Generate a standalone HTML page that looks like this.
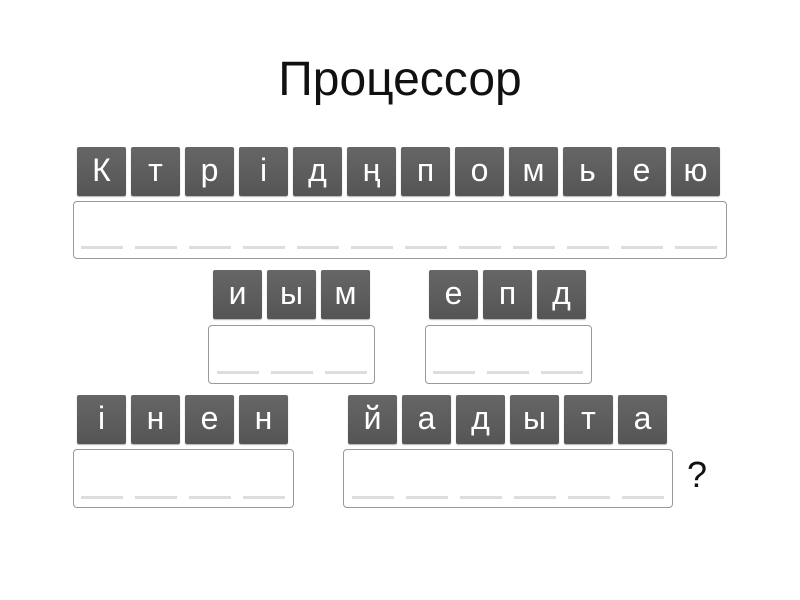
<!DOCTYPE html>
<html><head><meta charset="utf-8"><style>
body{margin:0;width:800px;height:600px;background:#fff;position:relative;overflow:hidden;font-family:"Liberation Sans",Arial,sans-serif}
.t{position:absolute;width:49px;height:49px;background:linear-gradient(#666,#555);border-radius:2px;color:#fff;font-size:32px;line-height:46px;text-align:center;box-shadow:0 1px 1px rgba(0,0,0,.3)}
.b{position:absolute;height:56px;border:1px solid #999;border-radius:4px;box-sizing:border-box;background:#fff}
.u{position:absolute;width:42px;height:3px;background:#ddd}
.title{position:absolute;left:0;width:800px;top:52px;text-align:center;font-size:48px;color:#111}
.q{position:absolute;left:687px;top:454px;font-size:36px;color:#111}
</style></head><body>
<div class="title">Процессор</div>

<div class="t" style="left:77px;top:147px">К</div>
<div class="t" style="left:131px;top:147px">т</div>
<div class="t" style="left:185px;top:147px">р</div>
<div class="t" style="left:239px;top:147px">і</div>
<div class="t" style="left:293px;top:147px">д</div>
<div class="t" style="left:347px;top:147px">ң</div>
<div class="t" style="left:401px;top:147px">п</div>
<div class="t" style="left:455px;top:147px">о</div>
<div class="t" style="left:509px;top:147px">м</div>
<div class="t" style="left:563px;top:147px">ь</div>
<div class="t" style="left:617px;top:147px">е</div>
<div class="t" style="left:671px;top:147px">ю</div>
<div class="b" style="left:73px;top:201px;width:654px;height:58px"></div>
<div class="u" style="left:81px;top:246px"></div><div class="u" style="left:135px;top:246px"></div><div class="u" style="left:189px;top:246px"></div><div class="u" style="left:243px;top:246px"></div><div class="u" style="left:297px;top:246px"></div><div class="u" style="left:351px;top:246px"></div><div class="u" style="left:405px;top:246px"></div><div class="u" style="left:459px;top:246px"></div><div class="u" style="left:513px;top:246px"></div><div class="u" style="left:567px;top:246px"></div><div class="u" style="left:621px;top:246px"></div><div class="u" style="left:675px;top:246px"></div>

<div class="t" style="left:213px;top:270px">и</div>
<div class="t" style="left:267px;top:270px">ы</div>
<div class="t" style="left:321px;top:270px">м</div>
<div class="b" style="left:208px;top:325px;width:167px;height:59px"></div>
<div class="u" style="left:217px;top:371px"></div><div class="u" style="left:271px;top:371px"></div><div class="u" style="left:325px;top:371px"></div>

<div class="t" style="left:429px;top:270px">е</div>
<div class="t" style="left:483px;top:270px">п</div>
<div class="t" style="left:537px;top:270px">д</div>
<div class="b" style="left:425px;top:325px;width:167px;height:59px"></div>
<div class="u" style="left:433px;top:371px"></div><div class="u" style="left:487px;top:371px"></div><div class="u" style="left:541px;top:371px"></div>

<div class="t" style="left:77px;top:395px">і</div>
<div class="t" style="left:131px;top:395px">н</div>
<div class="t" style="left:185px;top:395px">е</div>
<div class="t" style="left:239px;top:395px">н</div>
<div class="b" style="left:73px;top:449px;width:221px;height:59px"></div>
<div class="u" style="left:81px;top:496px"></div><div class="u" style="left:135px;top:496px"></div><div class="u" style="left:189px;top:496px"></div><div class="u" style="left:243px;top:496px"></div>

<div class="t" style="left:348px;top:395px">й</div>
<div class="t" style="left:402px;top:395px">а</div>
<div class="t" style="left:456px;top:395px">д</div>
<div class="t" style="left:510px;top:395px">ы</div>
<div class="t" style="left:564px;top:395px">т</div>
<div class="t" style="left:618px;top:395px">а</div>
<div class="b" style="left:343px;top:449px;width:330px;height:59px"></div>
<div class="u" style="left:352px;top:496px"></div><div class="u" style="left:406px;top:496px"></div><div class="u" style="left:460px;top:496px"></div><div class="u" style="left:514px;top:496px"></div><div class="u" style="left:568px;top:496px"></div><div class="u" style="left:622px;top:496px"></div>

<div class="q">?</div>
</body></html>
